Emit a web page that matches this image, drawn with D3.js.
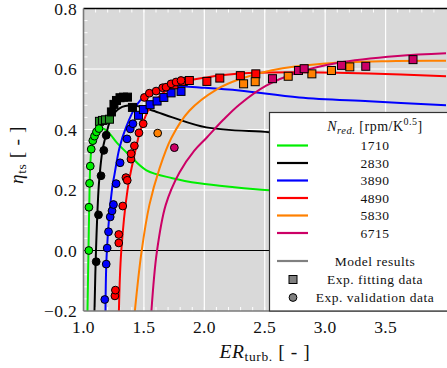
<!DOCTYPE html>
<html>
<head>
<meta charset="utf-8">
<script src="https://cdn.jsdelivr.net/npm/d3@7"></script>
<style>
  html, body { margin: 0; padding: 0; background: #fff; }
  svg { display: block; }
  text { font-family: "Liberation Serif", "DejaVu Serif", serif; fill: #111; }
</style>
</head>
<body>
<svg id="chart" width="447" height="368"></svg>
<script>
// Reduced speed lines, N_red. [rpm/K^0.5]
const speeds = ["1710", "2830", "3890", "4890", "5830", "6715"];
const speedColors = ["#00ee00", "#000000", "#0000ff", "#ff0000", "#ff8000", "#cc0066"];

// Model results: [ER_turb., eta_ts] per speed line
const model1710 = [[1.033,-0.2],[1.041,-0.005],[1.050,0.199],[1.058,0.298],[1.074,0.364],[1.107,0.394],[1.149,0.404],[1.198,0.394],[1.281,0.354],[1.380,0.315],[1.521,0.265],[1.736,0.239],[1.959,0.222],[2.248,0.209],[2.537,0.199],[3.2,0.185],[4.0,0.175]];
const model2830 = [[1.091,-0.2],[1.103,-0.005],[1.124,0.199],[1.132,0.242],[1.157,0.331],[1.190,0.387],[1.231,0.440],[1.298,0.470],[1.405,0.480],[1.570,0.463],[1.736,0.440],[2.017,0.407],[2.537,0.391],[3.2,0.375],[4.0,0.36]];
const model3890 = [[1.182,-0.2],[1.193,-0.005],[1.237,0.206],[1.256,0.250],[1.298,0.340],[1.355,0.410],[1.438,0.480],[1.521,0.516],[1.628,0.536],[1.793,0.543],[1.959,0.539],[2.289,0.529],[2.785,0.506],[3.364,0.493],[4.0,0.480]];
const model4890 = [[1.293,-0.2],[1.312,-0.005],[1.364,0.199],[1.421,0.315],[1.471,0.397],[1.545,0.470],[1.653,0.519],[1.818,0.556],[2.017,0.572],[2.289,0.585],[2.785,0.589],[3.364,0.585],[4.0,0.576]];
const model5830 = [[1.425,-0.2],[1.480,-0.005],[1.545,0.150],[1.628,0.270],[1.727,0.372],[1.876,0.462],[2.100,0.532],[2.289,0.566],[2.560,0.596],[3.000,0.618],[3.520,0.626],[4.0,0.627]];
const model6715 = [[1.562,-0.2],[1.607,-0.005],[1.680,0.150],[1.793,0.257],[1.917,0.330],[2.017,0.372],[2.157,0.432],[2.289,0.482],[2.512,0.545],[2.785,0.590],[3.100,0.620],[3.600,0.643],[4.0,0.652]];
const models = [model1710, model2830, model3890, model4890, model5830, model6715];

// Exp. fitting data (squares)
const fit1710 = [[1.132,0.427],[1.157,0.430],[1.182,0.432],[1.215,0.434]];
const fit2830 = [[1.231,0.458],[1.252,0.483],[1.273,0.496],[1.302,0.505],[1.331,0.507],[1.364,0.507],[1.405,0.473]];
const fit3890 = [[1.455,0.447],[1.496,0.466],[1.551,0.482],[1.609,0.494],[1.665,0.506],[1.725,0.521],[1.807,0.526]];
const fit4890 = [[1.748,0.548],[1.826,0.559],[1.876,0.562],[2.021,0.559],[2.128,0.570],[2.298,0.578],[2.426,0.584]];
const fit5830 = [[2.325,0.551],[2.421,0.558],[2.694,0.576],[2.890,0.584],[3.052,0.595],[3.204,0.607]];
const fit6715 = [[2.564,0.568],[2.779,0.595],[2.826,0.601],[3.135,0.612],[3.336,0.609],[3.727,0.631]];
const fits = [fit1710, fit2830, fit3890, fit4890, fit5830, fit6715];
const fitColors = ["#1f8a1f", "#000000", "#0000ff", "#ff0000", "#ff8000", "#cc0066"];

// Exp. validation data (circles)
const val1710 = [[1.044,0.0],[1.045,0.143],[1.050,0.222],[1.056,0.279],[1.064,0.335],[1.077,0.363],[1.091,0.378],[1.107,0.392],[1.128,0.403]];
const val2830 = [[1.105,-0.037],[1.124,0.118],[1.145,0.247],[1.168,0.331],[1.188,0.381]];
const val3890 = [[1.176,-0.162],[1.188,-0.045],[1.196,0.008],[1.207,0.062],[1.221,0.111],[1.236,0.131],[1.248,0.152],[1.270,0.221],[1.303,0.290],[1.360,0.369],[1.387,0.402],[1.409,0.419]];
const val4890 = [[1.260,-0.150],[1.264,-0.131],[1.292,0.025],[1.292,0.053],[1.325,0.147],[1.351,0.241],[1.362,0.232],[1.393,0.302],[1.394,0.320],[1.421,0.346],[1.459,0.389],[1.494,0.419],[1.504,0.506],[1.545,0.520],[1.601,0.527],[1.655,0.538],[1.683,0.540],[1.725,0.551],[1.766,0.557],[1.807,0.562]];
const val5830 = [[1.614,0.388]];
const val6715 = [[1.752,0.340]];
const vals = [val1710, val2830, val3890, val4890, val5830, val6715];

// Axis ticks
const xTicks = [1.0, 1.5, 2.0, 2.5, 3.0, 3.5];
const yTicks = [-0.2, 0.0, 0.2, 0.4, 0.6, 0.8];

const W = 447, H = 368;
const pLeft = 83.5, pRight = 446, pTop = 8.5, pBottom = 311;
const x = d3.scaleLinear([1, 4], [pLeft, pRight]);
const y = d3.scaleLinear([-0.2, 0.8], [pBottom, pTop]);

const svg = d3.select("#chart");

svg.append("defs").append("clipPath").attr("id", "plotClip")
  .append("rect").attr("x", pLeft).attr("y", pTop).attr("width", W - pLeft).attr("height", pBottom - pTop);

// Plot background
svg.append("rect").attr("x", pLeft).attr("y", pTop).attr("width", W - pLeft).attr("height", pBottom - pTop)
  .attr("fill", "#d9d9d9");

const grid = svg.append("g").attr("clip-path", "url(#plotClip)");
// Major grid
grid.selectAll(".gx").data(xTicks.filter(d => d > 1)).join("line")
  .attr("x1", d => x(d)).attr("x2", d => x(d)).attr("y1", pTop).attr("y2", pBottom)
  .attr("stroke", "#fff").attr("stroke-width", 1.2);
grid.selectAll(".gy").data(yTicks.filter(d => d > -0.2 && d < 0.8)).join("line")
  .attr("x1", pLeft).attr("x2", W).attr("y1", d => y(d)).attr("y2", d => y(d))
  .attr("stroke", "#fff").attr("stroke-width", 1.2);

// Minor ticks (white, inward)
const xMinor = d3.range(1.1, 4.0, 0.1);
const yMinor = d3.range(-0.16, 0.8, 0.04);
grid.selectAll(".mxb").data(xMinor).join("line")
  .attr("x1", d => x(d)).attr("x2", d => x(d)).attr("y1", pBottom).attr("y2", pBottom - 4)
  .attr("stroke", "#fff").attr("stroke-width", 1);
grid.selectAll(".mxt").data(xMinor).join("line")
  .attr("x1", d => x(d)).attr("x2", d => x(d)).attr("y1", pTop).attr("y2", pTop + 4)
  .attr("stroke", "#fff").attr("stroke-width", 1);
grid.selectAll(".myl").data(yMinor).join("line")
  .attr("x1", pLeft).attr("x2", pLeft + 4).attr("y1", d => y(d)).attr("y2", d => y(d))
  .attr("stroke", "#fff").attr("stroke-width", 1);

// Zero line
grid.append("line").attr("x1", pLeft).attr("x2", W).attr("y1", y(0)).attr("y2", y(0))
  .attr("stroke", "#000").attr("stroke-width", 1.1);

// Model curves
const line = d3.line().x(d => x(d[0])).y(d => y(d[1])).curve(d3.curveCatmullRom.alpha(0.5));
const curves = svg.append("g").attr("clip-path", "url(#plotClip)");
models.forEach((m, i) => {
  curves.append("path").attr("d", line(m)).attr("fill", "none")
    .attr("stroke", speedColors[i]).attr("stroke-width", 2);
});

// Experimental markers
const marks = svg.append("g").attr("clip-path", "url(#plotClip)");
const sq = 8;
fits.forEach((f, i) => {
  marks.selectAll(null).data(f).join("rect")
    .attr("x", d => x(d[0]) - sq / 2).attr("y", d => y(d[1]) - sq / 2)
    .attr("width", sq).attr("height", sq)
    .attr("fill", fitColors[i]).attr("stroke", "#000").attr("stroke-width", 1);
});
vals.forEach((v, i) => {
  marks.selectAll(null).data(v).join("circle")
    .attr("cx", d => x(d[0])).attr("cy", d => y(d[1])).attr("r", 3.9)
    .attr("fill", speedColors[i]).attr("stroke", "#000").attr("stroke-width", 1);
});

// Spines
svg.append("line").attr("x1", pLeft).attr("x2", W).attr("y1", pTop).attr("y2", pTop)
  .attr("stroke", "#000").attr("stroke-width", 1.3);
svg.append("line").attr("x1", pLeft).attr("x2", pLeft).attr("y1", pTop).attr("y2", pBottom)
  .attr("stroke", "#7a7a7a").attr("stroke-width", 1.6);
svg.append("line").attr("x1", pLeft).attr("x2", W).attr("y1", pBottom).attr("y2", pBottom)
  .attr("stroke", "#7a7a7a").attr("stroke-width", 1.6);

// Tick labels
const fmt = d3.format(".1f");
svg.selectAll(".xl").data(xTicks).join("text")
  .attr("x", d => x(d)).attr("y", 333).attr("text-anchor", "middle")
  .attr("font-size", 17.5).attr("letter-spacing", 0.3).text(d => fmt(d));
svg.selectAll(".yl").data(yTicks).join("text")
  .attr("x", 77).attr("y", d => y(d) + 6).attr("text-anchor", "end")
  .attr("font-size", 17.5).attr("letter-spacing", 0.3).text(d => fmt(d).replace("-", "\u2212"));

// Axis titles
const xt = svg.append("text").attr("x", 265).attr("y", 358).attr("text-anchor", "middle")
  .attr("font-size", 19.5).attr("letter-spacing", 0.6);
xt.append("tspan").attr("font-style", "italic").text("ER");
xt.append("tspan").attr("font-size", 13.5).attr("dy", 3).text("turb.");
xt.append("tspan").attr("dy", -3).text(" [ - ]");

const yt = svg.append("text").attr("transform", "translate(23,155) rotate(-90)")
  .attr("text-anchor", "middle").attr("font-size", 19.5).attr("letter-spacing", 0.6);
yt.append("tspan").attr("font-style", "italic").text("\u03b7");
yt.append("tspan").attr("font-size", 13.5).attr("dy", 3).text("ts");
yt.append("tspan").attr("dy", -3).text(" [ - ]");

// Legend
const lg = svg.append("g");
lg.append("rect").attr("x", 269.5).attr("y", 112.5).attr("width", 200).attr("height", 198.5)
  .attr("fill", "#fff").attr("stroke", "#333").attr("stroke-width", 1.2);
const lt = lg.append("text").attr("x", 375).attr("y", 131).attr("text-anchor", "middle")
  .attr("font-size", 14).attr("letter-spacing", 0.5);
lt.append("tspan").attr("font-style", "italic").text("N");
lt.append("tspan").attr("font-style", "italic").attr("font-size", 10.5).attr("dy", 3).text("red.");
lt.append("tspan").attr("dy", -3).text(" [rpm/K");
lt.append("tspan").attr("font-size", 10).attr("dy", -6).text("0.5");
lt.append("tspan").attr("dy", 6).text("]");

const rowY = [145.5, 163, 180.5, 198, 215.5, 233];
const entryFont = 13.5, entrySpacing = 0.5;
speeds.forEach((s, i) => {
  lg.append("line").attr("x1", 277).attr("x2", 308).attr("y1", rowY[i]).attr("y2", rowY[i])
    .attr("stroke", speedColors[i]).attr("stroke-width", 2.2);
  lg.append("text").attr("x", 375).attr("y", rowY[i] + 4.5).attr("text-anchor", "middle")
    .attr("font-size", entryFont).attr("letter-spacing", entrySpacing).text(s);
});
lg.append("line").attr("x1", 277).attr("x2", 308).attr("y1", 261).attr("y2", 261)
  .attr("stroke", "#808080").attr("stroke-width", 2.2);
lg.append("text").attr("x", 375).attr("y", 265.5).attr("text-anchor", "middle")
  .attr("font-size", entryFont).attr("letter-spacing", entrySpacing).text("Model results");
lg.append("rect").attr("x", 289).attr("y", 275.5).attr("width", 8).attr("height", 8)
  .attr("fill", "#808080").attr("stroke", "#000").attr("stroke-width", 1);
lg.append("text").attr("x", 375).attr("y", 283.5).attr("text-anchor", "middle")
  .attr("font-size", entryFont).attr("letter-spacing", entrySpacing).text("Exp. fitting data");
lg.append("circle").attr("cx", 293).attr("cy", 297.5).attr("r", 3.9)
  .attr("fill", "#808080").attr("stroke", "#000").attr("stroke-width", 1);
lg.append("text").attr("x", 375).attr("y", 302).attr("text-anchor", "middle")
  .attr("font-size", entryFont).attr("letter-spacing", entrySpacing).text("Exp. validation data");
</script>
</body>
</html>
